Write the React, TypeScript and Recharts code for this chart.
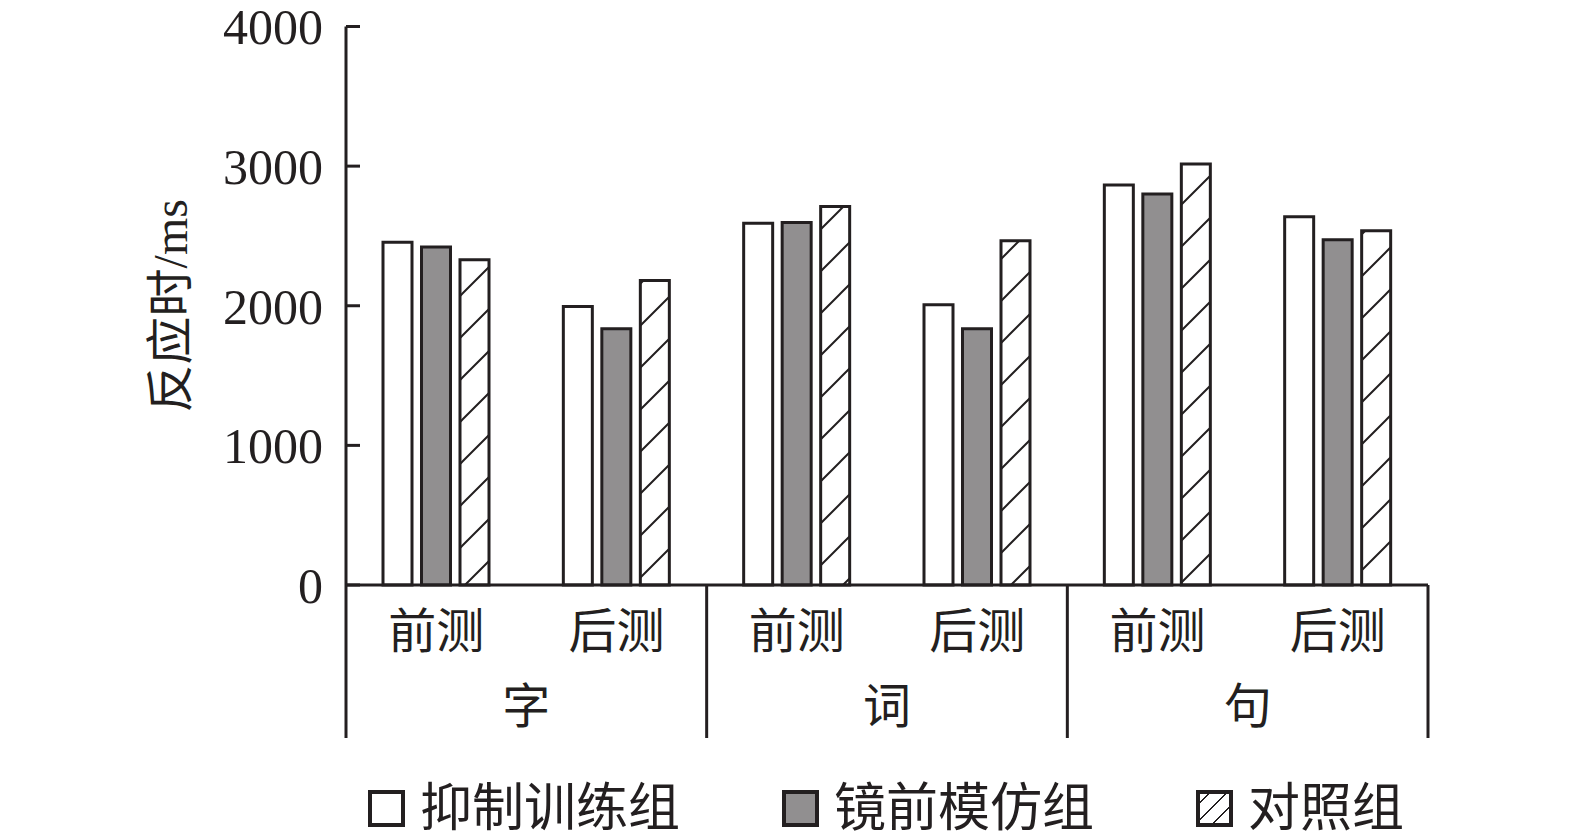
import * as React from 'react'
import { BarChart, Bar, XAxis, YAxis } from 'recharts'

const groups = ['字', '词', '句']
const phases = ['前测', '后测']
const seriesNames = ['抑制训练组', '镜前模仿组', '对照组']
const inhibitTraining = [2455, 1995, 2590, 2008, 2865, 2638]
const mirrorImitation = [2420, 1835, 2597, 1835, 2800, 2473]
const controlGroup = [2330, 2180, 2710, 2465, 3015, 2537]
const yTicks = [0, 1000, 2000, 3000, 4000]

const INK = '#231f20'
const GRAY = '#918f90'
const SERIF = '"Liberation Serif", "Noto Serif CJK SC", "Noto Sans CJK SC", serif'
const CJK = '"Liberation Serif", "Noto Sans CJK SC", serif'

const rows = groups.flatMap((g, gi) =>
  phases.map((p, pi) => {
    const i = gi * phases.length + pi
    return {
      name: `${g}${p}`,
      phase: p,
      group: g,
      inhibit: inhibitTraining[i],
      mirror: mirrorImitation[i],
      control: controlGroup[i],
    }
  })
)

const SEP_LEN = 153

// two-level category tick: phase under each bar group, group name under each pair, separators
const TwoLevelTick = (props: any) => {
  const { x, y, index, payload } = props
  const half = payload && payload.offset ? payload.offset : 90.2
  const row = rows[index]
  const first = index % phases.length === 0
  const last = index === rows.length - 1
  return (
    <g>
      <text x={x} y={y + 46} textAnchor="middle" dominantBaseline="central" fontSize={48} fontFamily={CJK} fill={INK}>
        {row.phase}
      </text>
      {first && (
        <>
          <line x1={x - half} x2={x - half} y1={y} y2={y + SEP_LEN} stroke={INK} strokeWidth={3} />
          <text x={x + half} y={y + 121} textAnchor="middle" dominantBaseline="central" fontSize={48} fontFamily={CJK} fill={INK}>
            {row.group}
          </text>
        </>
      )}
      {last && <line x1={x + half} x2={x + half} y1={y} y2={y + SEP_LEN} stroke={INK} strokeWidth={3} />}
    </g>
  )
}

const LegendRow = () => {
  const boxes = [
    { background: '#fff' },
    { background: GRAY },
    {
      background:
        'repeating-linear-gradient(-45deg, #fff 0px, #fff 10px, ' + INK + ' 10px, ' + INK + ' 11.5px, #fff 11.5px, #fff 12px)',
    },
  ]
  return (
    <div
      style={{
        position: 'absolute',
        left: 368,
        top: 790,
        display: 'flex',
        alignItems: 'center',
        gap: 102,
        fontFamily: CJK,
        fontSize: 52,
        color: INK,
        lineHeight: 1,
      }}
    >
      {seriesNames.map((n, i) => (
        <div key={n} style={{ display: 'flex', alignItems: 'center', gap: 15, height: 37 }}>
          <div style={{ width: 37, height: 37, boxSizing: 'border-box', border: `4px solid ${INK}`, ...boxes[i] }} />
          <span style={{ whiteSpace: 'nowrap' }}>{n}</span>
        </div>
      ))}
    </div>
  )
}

export default function App() {
  return (
    <div style={{ position: 'absolute', left: 0, top: 0, width: 1575, height: 839, background: '#fff' }}>
      <BarChart
        width={1575}
        height={839}
        data={rows}
        margin={{ top: 26.5, right: 147, bottom: 94, left: 0 }}
        barSize={29}
        barGap={9.5}
      >
        <defs>
          <pattern id="hatch" patternUnits="userSpaceOnUse" width={42} height={42}>
            <rect width={42} height={42} fill="#fff" />
            <path d="M0,42 L42,0 M-10,10 L10,-10 M32,52 L52,32" stroke={INK} strokeWidth={2} />
          </pattern>
        </defs>
        <XAxis
          dataKey="name"
          height={160}
          axisLine={{ stroke: INK, strokeWidth: 3 }}
          tickLine={false}
          tickSize={0}
          tickMargin={0}
          interval={0}
          tick={<TwoLevelTick />}
        />
        <YAxis
          width={346}
          domain={[0, 4000]}
          ticks={yTicks}
          interval={0}
          axisLine={{ stroke: INK, strokeWidth: 3 }}
          tickLine={{ stroke: INK, strokeWidth: 3 }}
          tickSize={-14}
          tickMargin={37}
          tick={{ fill: INK, fontSize: 50, fontFamily: SERIF }}
          label={{
            value: '反应时/ms',
            angle: -90,
            position: 'center',
            dx: -3,
            fontSize: 48,
            fontFamily: CJK,
            fill: INK,
          }}
        />
        <Bar dataKey="inhibit" name={seriesNames[0]} fill="#fff" stroke={INK} strokeWidth={3} isAnimationActive={false} />
        <Bar dataKey="mirror" name={seriesNames[1]} fill={GRAY} stroke={INK} strokeWidth={3} isAnimationActive={false} />
        <Bar dataKey="control" name={seriesNames[2]} fill="url(#hatch)" stroke={INK} strokeWidth={3} isAnimationActive={false} />
      </BarChart>
      <LegendRow />
    </div>
  )
}
